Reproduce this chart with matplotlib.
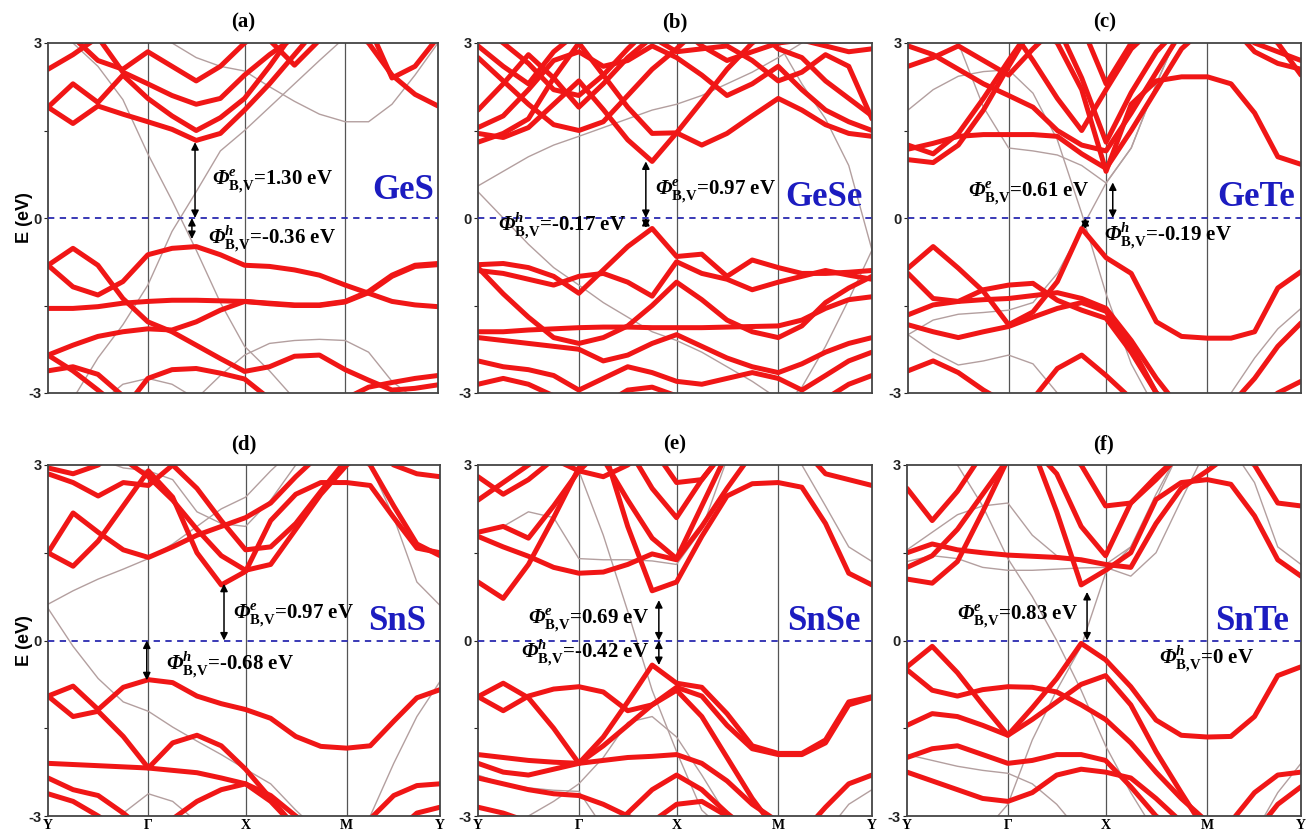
import matplotlib
matplotlib.use("Agg")
from matplotlib import pyplot as plt

# k-path sampling (Y - Gamma - X - M - Y), read at 17 points
K = [0.0, 0.064, 0.128, 0.192, 0.256, 0.318, 0.380, 0.442, 0.504,
     0.568, 0.632, 0.696, 0.762, 0.822, 0.882, 0.941, 1.0]
HSYM_K = [0.0, 0.256, 0.504, 0.762, 1.0]
HSYM_LABELS = ["Y", "\u0393", "X", "M", "Y"]

MATERIALS = ["GeS", "GeSe", "GeTe", "SnS", "SnSe", "SnTe"]
LETTERS = ["(a)", "(b)", "(c)", "(d)", "(e)", "(f)"]
PHI_E = [1.30, 0.97, 0.61, 0.97, 0.69, 0.83]
PHI_H = [-0.36, -0.17, -0.19, -0.68, -0.42, 0]

GES_RED = [
    [-0.81, -1.18, -1.32, -1.09, -0.63, -0.52, -0.49, -0.63, -0.81, -0.83, -0.89, -0.98, -1.15, -1.29, -1.43, -1.49, -1.52],
    [-0.81, -0.52, -0.81, -1.38, -1.78, -1.95, -2.18, -2.41, -2.63, -2.55, -2.37, -2.35, -2.60, -2.78, -2.95, -2.92, -2.86],
    [-1.55, -1.55, -1.52, -1.46, -1.43, -1.41, -1.41, -1.42, -1.43, -1.46, -1.49, -1.49, -1.43, -1.26, -0.98, -0.81, -0.78],
    [-2.35, -2.18, -2.03, -1.95, -1.90, -1.92, -1.78, -1.58, -1.43, -1.47, -1.50, -1.50, -1.44, -1.28, -1.00, -0.83, -0.80],
    [-2.62, -2.55, -2.68, -3.05, -3.30, -3.30, -3.30, -3.30, -3.30, -3.30, -3.30, -3.30, -3.30, -3.30, -3.30, -3.30, -3.30],
    [-2.35, -2.62, -2.95, -3.30, -2.75, -2.60, -2.58, -2.66, -2.76, -3.10, -3.30, -3.30, -3.30, -3.30, -3.30, -3.30, -3.30],
    [-3.30, -3.30, -3.30, -3.30, -3.30, -3.30, -3.30, -3.30, -3.30, -3.30, -3.30, -3.30, -3.10, -2.90, -2.82, -2.75, -2.70],
    [1.90, 1.62, 1.92, 1.78, 1.65, 1.52, 1.33, 1.45, 1.85, 2.30, 2.80, 3.30, 3.30, 3.30, 3.30, 3.30, 3.30],
    [1.90, 2.30, 1.98, 2.45, 2.05, 1.75, 1.50, 1.72, 2.05, 2.60, 3.20, 3.30, 3.30, 3.30, 3.30, 3.30, 3.30],
    [2.55, 2.80, 3.10, 2.50, 2.30, 2.10, 1.95, 2.05, 2.45, 2.80, 3.10, 3.30, 3.30, 3.00, 2.45, 2.12, 1.92],
    [3.30, 3.10, 2.70, 2.55, 2.85, 2.60, 2.35, 2.60, 3.00, 3.30, 3.30, 3.30, 3.30, 3.30, 2.40, 2.60, 3.10],
    [3.30, 3.30, 3.30, 3.30, 3.30, 3.30, 3.30, 3.30, 3.30, 3.05, 2.62, 3.05, 3.30, 3.30, 3.30, 3.30, 3.30],
]
GES_GRAY = [
    [3.40, 3.00, 2.60, 2.03, 1.10, 0.30, -0.55, -1.45, -2.20, -2.62, -3.10, -3.30, -3.30, -3.30, -3.30, -3.30, -3.30],
    [-3.30, -3.10, -2.40, -1.83, -1.15, -0.23, 0.45, 1.15, 1.50, 1.90, 2.30, 2.70, 3.10, 3.30, 3.30, 3.30, 3.30],
    [3.30, 3.30, 3.30, 3.30, 3.30, 3.00, 2.75, 2.60, 2.52, 2.25, 2.00, 1.78, 1.65, 1.65, 1.95, 2.45, 3.00],
    [-3.30, -3.30, -3.20, -2.85, -2.75, -2.85, -3.10, -2.70, -2.35, -2.15, -2.10, -2.08, -2.10, -2.30, -2.80, -3.10, -3.30],
]

GESE_RED = [
    [-0.80, -0.78, -0.85, -1.00, -1.29, -0.89, -0.49, -0.18, -0.66, -0.62, -1.00, -0.72, -0.85, -0.95, -0.95, -0.93, -0.90],
    [-0.90, -0.95, -1.05, -1.15, -1.00, -0.95, -1.10, -1.34, -0.75, -0.95, -1.05, -1.23, -1.10, -1.00, -0.90, -0.98, -1.05],
    [-1.95, -1.95, -1.92, -1.90, -1.88, -1.87, -1.87, -1.88, -1.88, -1.88, -1.87, -1.86, -1.85, -1.75, -1.55, -1.40, -1.35],
    [-0.85, -1.30, -1.70, -2.05, -2.15, -2.05, -1.85, -1.50, -1.10, -1.40, -1.75, -1.95, -2.05, -1.85, -1.45, -1.20, -1.00],
    [-2.05, -2.10, -2.15, -2.20, -2.25, -2.45, -2.35, -2.15, -2.00, -2.20, -2.40, -2.55, -2.65, -2.50, -2.30, -2.15, -2.05],
    [-2.45, -2.55, -2.60, -2.70, -2.95, -2.75, -2.55, -2.65, -2.80, -2.85, -2.75, -2.65, -2.75, -2.95, -2.70, -2.45, -2.30],
    [-2.85, -2.75, -2.85, -3.05, -3.30, -3.20, -2.95, -2.90, -3.05, -3.30, -3.30, -3.30, -3.30, -3.30, -3.10, -2.85, -2.70],
    [1.45, 1.38, 1.55, 1.95, 2.35, 1.86, 1.34, 0.97, 1.46, 1.25, 1.45, 1.75, 2.05, 1.85, 1.60, 1.45, 1.40],
    [1.30, 1.45, 1.70, 2.40, 3.00, 2.45, 1.90, 1.45, 1.46, 2.00, 2.55, 3.00, 3.30, 3.30, 3.30, 3.30, 3.30],
    [1.55, 1.75, 2.20, 2.70, 2.85, 2.60, 2.70, 2.95, 2.75, 2.45, 2.10, 2.30, 2.60, 2.20, 1.85, 1.65, 1.50],
    [1.85, 2.30, 2.80, 2.40, 1.90, 2.30, 2.75, 3.10, 2.85, 2.90, 2.95, 2.70, 2.35, 2.50, 2.80, 2.60, 1.70],
    [2.75, 2.35, 1.95, 1.60, 1.50, 1.65, 2.10, 2.55, 2.90, 3.30, 3.30, 3.30, 2.90, 2.75, 2.35, 2.05, 1.75],
    [2.95, 2.60, 2.30, 2.85, 3.20, 3.30, 3.30, 3.30, 3.30, 2.95, 2.70, 2.85, 3.00, 3.05, 2.95, 2.85, 2.90],
    [3.30, 3.00, 2.65, 2.20, 2.10, 2.45, 2.90, 3.30, 3.30, 3.30, 3.30, 3.30, 3.30, 3.30, 3.30, 3.30, 3.30],
]
GESE_GRAY = [
    [0.55, 0.80, 1.05, 1.25, 1.40, 1.55, 1.70, 1.85, 1.95, 2.10, 2.30, 2.50, 2.75, 3.00, 3.30, 3.30, 3.30],
    [0.45, 0.00, -0.45, -0.85, -1.15, -1.45, -1.70, -1.95, -2.10, -2.30, -2.55, -2.80, -3.10, -3.30, -3.30, -3.30, -3.30],
    [3.30, 3.30, 3.30, 3.30, 3.30, 3.30, 3.30, 3.30, 3.30, 3.30, 3.30, 3.30, 3.00, 2.30, 1.70, 0.90, -0.55],
    [-3.30, -3.30, -3.30, -3.30, -3.30, -3.30, -3.30, -3.30, -3.30, -3.30, -3.30, -3.30, -3.30, -2.90, -2.20, -1.40, -0.55],
]

GETE_RED = [
    [-0.86, -0.49, -0.86, -1.26, -1.83, -1.61, -1.09, -0.18, -0.68, -0.95, -1.78, -2.03, -2.06, -2.06, -1.95, -1.20, -0.92],
    [-0.95, -1.38, -1.43, -1.23, -1.15, -1.12, -1.41, -1.58, -1.72, -2.30, -3.00, -3.30, -3.30, -3.30, -3.30, -3.30, -3.30],
    [-1.66, -1.49, -1.43, -1.40, -1.38, -1.33, -1.28, -1.38, -1.55, -2.10, -2.75, -3.30, -3.30, -3.30, -3.30, -3.30, -3.30],
    [-1.83, -1.95, -2.05, -1.95, -1.86, -1.70, -1.55, -1.45, -1.60, -2.20, -3.00, -3.30, -3.30, -3.30, -3.30, -3.30, -3.30],
    [-2.62, -2.45, -2.65, -2.95, -3.20, -3.10, -2.58, -2.35, -2.70, -3.10, -3.30, -3.30, -3.30, -3.30, -3.30, -3.30, -3.30],
    [-3.30, -3.30, -3.30, -3.30, -3.30, -3.30, -3.30, -3.30, -3.30, -3.30, -3.30, -3.30, -3.30, -3.20, -2.75, -2.20, -1.80],
    [-3.30, -3.30, -3.30, -3.30, -3.30, -3.30, -3.30, -3.30, -3.30, -3.30, -3.30, -3.30, -3.30, -3.30, -3.30, -3.00, -2.80],
    [1.25, 1.10, 1.45, 2.05, 2.70, 3.30, 3.00, 2.20, 0.80, 1.95, 2.35, 2.42, 2.42, 2.30, 1.80, 1.05, 0.92],
    [1.00, 0.95, 1.25, 1.85, 2.60, 3.30, 3.30, 2.40, 1.30, 2.15, 2.85, 3.30, 3.30, 3.30, 3.00, 2.85, 2.70],
    [1.18, 1.28, 1.40, 1.43, 1.43, 1.43, 1.40, 1.10, 0.85, 1.50, 2.20, 2.90, 3.30, 3.30, 3.30, 3.30, 3.30],
    [2.60, 2.75, 2.95, 2.70, 2.45, 2.90, 3.30, 3.30, 2.30, 3.00, 3.30, 3.30, 3.30, 3.30, 2.85, 2.65, 2.55],
    [2.95, 2.80, 2.55, 2.30, 2.10, 1.90, 1.50, 1.25, 1.15, 1.80, 2.50, 3.20, 3.30, 3.30, 3.30, 3.00, 2.45],
    [3.30, 3.30, 3.30, 3.30, 3.30, 2.70, 2.05, 1.50, 2.20, 2.90, 3.30, 3.30, 3.30, 3.30, 3.30, 3.30, 3.30],
]
GETE_GRAY = [
    [1.85, 2.20, 2.43, 2.51, 2.54, 2.14, 1.34, 0.08, -1.30, -2.50, -3.30, -3.30, -3.30, -3.30, -3.30, -3.30, -3.30],
    [3.30, 3.30, 3.00, 1.90, 1.20, 1.15, 1.08, 0.90, 0.60, 1.20, 2.30, 3.30, 3.30, 3.30, 3.30, 3.30, 3.30],
    [-2.00, -1.75, -1.65, -1.62, -1.58, -1.45, -0.95, -0.18, 0.60, 1.20, 2.30, 3.30, 3.30, 3.30, 3.30, 3.30, 3.30],
    [-2.00, -2.30, -2.52, -2.45, -2.35, -2.50, -3.00, -3.30, -3.30, -3.30, -3.30, -3.30, -3.30, -3.30, -3.30, -3.30, -3.30],
    [-3.30, -3.30, -3.30, -3.30, -3.30, -3.30, -3.30, -3.30, -3.30, -3.30, -3.30, -3.30, -3.30, -3.00, -2.40, -1.90, -1.55],
]

SNS_RED = [
    [-0.95, -0.78, -1.18, -0.80, -0.67, -0.72, -0.95, -1.08, -1.18, -1.33, -1.64, -1.81, -1.84, -1.80, -1.38, -0.98, -0.84],
    [-0.95, -1.30, -1.21, -1.64, -2.18, -1.75, -1.62, -1.80, -2.20, -2.70, -3.20, -3.30, -3.30, -3.30, -3.30, -3.30, -3.30],
    [-2.10, -2.12, -2.14, -2.16, -2.18, -2.22, -2.26, -2.35, -2.45, -2.75, -3.20, -3.30, -3.30, -3.30, -3.30, -3.30, -3.30],
    [-2.35, -2.55, -2.65, -2.95, -3.30, -3.30, -3.30, -3.30, -3.30, -3.30, -3.30, -3.30, -3.30, -3.30, -3.30, -3.30, -3.30],
    [-2.62, -2.75, -3.00, -3.30, -3.30, -3.30, -3.30, -3.30, -3.30, -3.30, -3.30, -3.30, -3.30, -3.30, -3.30, -3.30, -3.30],
    [-3.30, -3.30, -3.30, -3.30, -3.30, -3.05, -2.75, -2.55, -2.45, -2.65, -3.00, -3.30, -3.30, -3.30, -3.30, -3.30, -3.30],
    [-3.30, -3.30, -3.30, -3.30, -3.30, -3.30, -3.30, -3.30, -3.30, -3.30, -3.30, -3.30, -3.30, -3.05, -2.65, -2.48, -2.45],
    [-3.30, -3.30, -3.30, -3.30, -3.30, -3.30, -3.30, -3.30, -3.30, -3.30, -3.30, -3.30, -3.30, -3.30, -3.30, -2.95, -2.85],
    [1.50, 1.27, 1.70, 2.30, 2.90, 2.45, 1.50, 0.95, 1.18, 2.05, 2.50, 2.70, 2.70, 2.65, 2.10, 1.58, 1.50],
    [1.50, 2.18, 1.85, 1.55, 1.42, 1.60, 1.80, 1.95, 2.10, 2.35, 2.80, 3.20, 3.30, 3.30, 3.30, 3.30, 3.30],
    [2.85, 2.70, 2.47, 2.70, 2.65, 3.00, 2.60, 2.05, 1.55, 1.60, 2.00, 2.55, 3.10, 3.30, 3.30, 3.30, 3.30],
    [3.30, 3.30, 3.30, 3.10, 2.80, 2.40, 1.90, 1.45, 1.20, 1.30, 1.90, 2.50, 3.00, 3.30, 3.30, 3.30, 3.30],
    [2.95, 2.85, 3.00, 3.30, 3.30, 3.30, 3.30, 3.30, 3.30, 3.30, 3.30, 3.30, 3.30, 3.30, 3.00, 2.85, 2.80],
    [3.30, 3.30, 3.30, 3.30, 3.30, 3.30, 3.30, 3.30, 3.30, 3.30, 3.30, 3.30, 3.30, 3.00, 2.30, 1.65, 1.45],
]
SNS_GRAY = [
    [0.62, 0.85, 1.05, 1.22, 1.40, 1.65, 1.95, 2.25, 2.45, 2.90, 3.30, 3.30, 3.30, 3.30, 3.30, 3.30, 3.30],
    [0.55, -0.10, -0.65, -1.05, -1.21, -1.48, -1.72, -1.95, -2.20, -2.45, -2.90, -3.30, -3.30, -3.30, -3.30, -3.30, -3.30],
    [3.30, 3.30, 3.10, 2.95, 2.90, 2.75, 2.20, 2.00, 1.95, 2.40, 3.00, 3.30, 3.30, 3.30, 3.30, 3.30, 3.30],
    [-3.30, -3.30, -3.30, -2.95, -2.62, -2.75, -3.10, -3.30, -3.30, -3.30, -3.30, -3.30, -3.30, -3.30, -3.30, -3.30, -3.30],
    [3.30, 3.30, 3.30, 3.30, 3.30, 3.30, 3.30, 3.30, 3.30, 3.30, 3.30, 3.30, 3.30, 3.00, 2.10, 1.00, 0.60],
    [-3.30, -3.30, -3.30, -3.30, -3.30, -3.30, -3.30, -3.30, -3.30, -3.30, -3.30, -3.30, -3.30, -3.00, -2.10, -1.30, -0.70],
]

SNSE_RED = [
    [-0.96, -0.73, -0.98, -1.50, -2.10, -1.65, -1.05, -0.42, -0.73, -0.80, -1.25, -1.80, -1.93, -1.93, -1.70, -1.05, -0.96],
    [-0.96, -1.20, -0.95, -0.83, -0.79, -0.88, -1.20, -1.10, -0.80, -0.95, -1.45, -1.85, -1.95, -1.95, -1.75, -1.10, -0.98],
    [-1.95, -2.00, -2.05, -2.08, -2.10, -2.05, -2.00, -1.98, -1.95, -2.10, -2.40, -2.80, -3.10, -3.30, -3.30, -3.30, -3.30],
    [-2.10, -2.25, -2.30, -2.20, -2.10, -1.80, -1.45, -1.10, -0.85, -1.30, -2.00, -2.70, -3.30, -3.30, -3.30, -3.30, -3.30],
    [-2.35, -2.45, -2.55, -2.62, -2.65, -2.80, -3.00, -3.20, -3.30, -3.30, -3.30, -3.30, -3.30, -3.30, -3.30, -3.30, -3.30],
    [-3.30, -3.30, -3.30, -3.30, -3.30, -3.30, -2.95, -2.55, -2.30, -2.55, -2.95, -3.30, -3.30, -3.30, -3.30, -3.30, -3.30],
    [-2.85, -2.95, -3.10, -3.30, -3.30, -3.30, -3.30, -3.10, -2.80, -2.75, -3.00, -3.30, -3.30, -3.30, -3.30, -3.30, -3.30],
    [-3.30, -3.30, -3.30, -3.30, -3.30, -3.30, -3.30, -3.30, -3.30, -3.30, -3.30, -3.30, -3.30, -3.30, -2.85, -2.45, -2.30],
    [1.00, 0.72, 1.30, 2.10, 2.95, 3.30, 1.95, 0.85, 1.00, 1.78, 2.47, 2.68, 2.70, 2.62, 2.00, 1.15, 0.95],
    [1.78, 1.60, 1.44, 1.25, 1.15, 1.17, 1.30, 1.48, 1.38, 1.95, 2.60, 3.20, 3.30, 3.30, 3.30, 3.30, 3.30],
    [1.85, 1.95, 1.75, 2.30, 2.90, 3.30, 3.30, 2.60, 2.10, 2.75, 3.30, 3.30, 3.30, 3.30, 3.30, 3.30, 3.30],
    [2.40, 2.70, 3.00, 3.30, 3.30, 3.10, 2.40, 1.75, 1.40, 2.30, 3.20, 3.30, 3.30, 3.30, 3.30, 3.30, 3.30],
    [2.80, 2.50, 2.75, 3.10, 2.90, 2.80, 3.00, 3.30, 2.70, 2.75, 3.30, 3.30, 3.30, 3.30, 3.30, 3.30, 3.30],
    [3.30, 3.30, 3.30, 3.30, 3.30, 3.30, 3.30, 3.30, 3.30, 3.30, 3.30, 3.30, 3.30, 3.30, 2.85, 2.75, 2.65],
]
SNSE_GRAY = [
    [3.30, 3.30, 3.30, 3.30, 2.90, 1.80, 0.50, -0.85, -1.90, -2.90, -3.30, -3.30, -3.30, -3.30, -3.30, -3.30, -3.30],
    [1.85, 1.95, 2.20, 2.10, 1.40, 1.38, 1.38, 1.36, 1.30, 1.90, 3.10, 3.30, 3.30, 3.30, 3.30, 3.30, 3.30],
    [-3.30, -3.30, -3.00, -2.75, -2.45, -2.00, -1.40, -1.30, -1.65, -2.30, -3.00, -3.30, -3.30, -3.30, -3.30, -3.30, -3.30],
    [-2.30, -2.45, -2.52, -2.56, -2.58, -3.20, -3.30, -3.30, -3.30, -3.30, -3.30, -3.30, -3.30, -3.30, -3.30, -3.30, -3.30],
    [3.30, 3.30, 3.30, 3.30, 3.30, 3.30, 3.30, 3.30, 3.30, 3.30, 3.30, 3.30, 3.30, 3.00, 2.30, 1.60, 1.35],
    [-3.30, -3.30, -3.30, -3.30, -3.30, -3.30, -3.30, -3.30, -3.30, -3.30, -3.30, -3.30, -3.30, -3.30, -3.30, -2.80, -2.55],
]

SNTE_RED = [
    [-0.45, -0.10, -0.55, -1.10, -1.62, -1.15, -0.65, -0.05, -0.33, -0.79, -1.36, -1.62, -1.65, -1.64, -1.30, -0.60, -0.45],
    [-0.50, -0.85, -0.95, -0.84, -0.79, -0.80, -0.88, -1.10, -1.35, -1.75, -2.25, -2.70, -3.10, -3.30, -3.30, -3.30, -3.30],
    [-1.45, -1.25, -1.30, -1.45, -1.62, -1.35, -1.05, -0.75, -0.60, -1.10, -1.90, -2.60, -3.30, -3.30, -3.30, -3.30, -3.30],
    [-2.00, -1.85, -1.80, -1.95, -2.10, -2.05, -1.95, -1.95, -2.05, -2.50, -3.00, -3.30, -3.30, -3.30, -3.30, -3.30, -3.30],
    [-2.25, -2.40, -2.55, -2.70, -2.75, -2.60, -2.30, -2.20, -2.25, -2.35, -2.70, -3.10, -3.30, -3.30, -3.30, -3.30, -3.30],
    [-3.30, -3.30, -3.30, -3.30, -3.30, -3.30, -3.30, -3.30, -3.30, -3.30, -3.30, -3.30, -3.30, -3.10, -2.60, -2.30, -2.25],
    [-3.30, -3.30, -3.30, -3.30, -3.30, -3.30, -3.30, -3.30, -3.30, -3.30, -3.30, -3.30, -3.30, -3.30, -3.30, -2.80, -2.50],
    [1.05, 0.98, 1.35, 2.20, 3.10, 3.30, 2.20, 0.95, 1.20, 1.50, 2.41, 2.70, 2.75, 2.67, 2.13, 1.38, 1.10],
    [1.50, 1.65, 1.55, 1.50, 1.46, 1.44, 1.42, 1.38, 1.30, 1.25, 2.00, 2.60, 2.90, 3.20, 3.30, 3.30, 3.30],
    [1.25, 1.45, 1.90, 2.50, 3.10, 3.30, 2.85, 1.95, 1.45, 2.35, 2.80, 3.20, 3.30, 3.30, 3.30, 3.30, 3.30],
    [2.60, 2.05, 2.55, 3.20, 3.30, 3.30, 3.30, 3.00, 2.30, 2.35, 2.75, 3.20, 3.30, 3.30, 3.00, 2.35, 2.30],
]
SNTE_GRAY = [
    [3.30, 3.30, 3.00, 2.30, 1.40, 0.75, 0.00, -0.85, -1.80, -2.60, -3.30, -3.30, -3.30, -3.30, -3.30, -3.30, -3.30],
    [-3.30, -3.30, -3.30, -3.30, -2.80, -1.70, -0.85, -0.10, 1.15, 1.60, 2.50, 3.30, 3.30, 3.30, 3.30, 3.30, 3.30],
    [1.55, 1.85, 2.15, 2.30, 2.35, 1.80, 1.45, 1.35, 1.30, 1.60, 2.40, 3.30, 3.30, 3.30, 3.30, 3.30, 3.30],
    [1.35, 1.45, 1.40, 1.25, 1.20, 1.20, 1.22, 1.24, 1.25, 1.10, 1.50, 2.40, 3.30, 3.30, 3.30, 3.30, 3.30],
    [-1.95, -2.05, -2.15, -2.22, -2.27, -2.45, -2.80, -3.30, -3.30, -3.30, -3.30, -3.30, -3.30, -3.30, -3.30, -3.30, -3.30],
    [3.30, 3.30, 3.30, 3.30, 3.30, 3.30, 3.30, 3.30, 3.30, 3.30, 3.30, 3.30, 3.30, 3.30, 2.70, 1.60, 1.30],
    [-3.30, -3.30, -3.30, -3.30, -3.30, -3.30, -3.30, -3.30, -3.30, -3.30, -3.30, -3.30, -3.30, -3.30, -3.30, -2.60, -2.10],
]

RED_BANDS = [GES_RED, GESE_RED, GETE_RED, SNS_RED, SNSE_RED, SNTE_RED]
GRAY_BANDS = [GES_GRAY, GESE_GRAY, GETE_GRAY, SNS_GRAY, SNSE_GRAY, SNTE_GRAY]

# layout: axes boxes in pixels (left, top, width, height)
W, H = 1306, 835
BOXES = [(48, 43, 390, 350), (478, 43, 394, 350), (908, 43, 393, 350),
         (48, 465, 392, 351), (478, 465, 394, 351), (907, 465, 394, 351)]
# arrow k positions (electron, hole) and text anchors (k, E, ha)
ARROW_K = [(0.377, 0.369), (0.426, 0.426), (0.521, 0.451),
           (0.449, 0.252), (0.459, 0.459), (0.457, None)]
TEXT_E = [(0.42, 0.63, "left"), (0.45, 0.46, "left"), (0.153, 0.43, "left"),
          (0.473, 0.44, "left"), (0.435, 0.35, "right"), (0.435, 0.41, "right")]
TEXT_H = [(0.41, -0.37, "left"), (0.052, -0.14, "left"), (0.50, -0.31, "left"),
          (0.30, -0.42, "left"), (0.435, -0.22, "right"), (0.64, -0.33, "left")]
NAME_POS = [(0.99, 0.47), (0.975, 0.36), (0.985, 0.36),
            (0.965, 0.33), (0.97, 0.33), (0.97, 0.33)]

RED = "#f01616"
GRAY = "#b39f9f"
BLUE = "#1c1cc0"
SERIF = "Liberation Serif"
SANS = "Liberation Sans"

plt.rcParams["mathtext.fontset"] = "custom"
plt.rcParams["mathtext.rm"] = "Liberation Serif:bold"
plt.rcParams["mathtext.bf"] = "Liberation Serif:bold"
plt.rcParams["mathtext.sf"] = "Liberation Serif:italic:bold"


def phi_label(sup, value):
    return r"$\mathsf{\Phi}^{\mathsf{" + sup + r"}}_{\mathrm{B{,}V}}$=" + value + " eV"


def fmt(v):
    if v == 0:
        return "0"
    return f"{v:.2f}"


fig = plt.figure(figsize=(W / 100, H / 100), dpi=100)
fig.set_facecolor("white")

for i in range(6):
    l, t, w, h = BOXES[i]
    ax = fig.add_axes([l / W, 1 - (t + h) / H, w / W, h / H])

    for band in GRAY_BANDS[i]:
        ax.plot(K, band, color=GRAY, lw=1.0, zorder=1)
    for band in RED_BANDS[i]:
        ax.plot(K, band, color=RED, lw=3.6, zorder=2,
                solid_joinstyle="round", solid_capstyle="round")

    for kx in HSYM_K[1:-1]:
        ax.axvline(kx, color="#555555", lw=0.9, zorder=0.5)
    ax.axhline(0, color="#2a2ab0", lw=1.3, ls=(0, (3.5, 3)), zorder=4)

    ax.set_xlim(0, 1)
    ax.set_ylim(-3, 3)
    ax.set_yticks([-3, -1.5, 0, 1.5, 3])
    ax.set_yticklabels(["-3", "", "0", "", "3"], fontfamily=SANS,
                       fontweight="bold", fontsize=10.5)
    ax.tick_params(axis="y", direction="out", length=3, width=0.8, pad=1.5,
                   colors="#222222")
    ax.set_xticks(HSYM_K)
    if i >= 3:
        ax.set_xticklabels(HSYM_LABELS, fontfamily=SERIF, fontweight="bold",
                           fontsize=10)
    else:
        ax.set_xticklabels([])
    ax.tick_params(axis="x", length=0, pad=2)
    for sp in ax.spines.values():
        sp.set_color("#444444")
        sp.set_linewidth(1.3)

    if i % 3 == 0:
        ax.set_ylabel("E (eV)", fontfamily=SANS, fontweight="bold",
                      fontsize=13, labelpad=-3)

    ax.set_title(LETTERS[i], fontfamily=SERIF, fontweight="bold",
                 fontsize=15, pad=11)

    # barrier arrows
    ke, kh = ARROW_K[i]
    arrow = dict(arrowstyle="<|-|>", color="black", lw=1.1,
                 mutation_scale=11, shrinkA=0, shrinkB=0)
    ax.annotate("", xy=(ke, PHI_E[i]), xytext=(ke, 0), arrowprops=arrow,
                zorder=5)
    if kh is not None and PHI_H[i] != 0:
        ax.annotate("", xy=(kh, PHI_H[i]), xytext=(kh, 0), arrowprops=arrow,
                    zorder=5)

    x, y, ha = TEXT_E[i]
    ax.text(x, y, phi_label("e", fmt(PHI_E[i])), ha=ha, va="center",
            fontfamily=SERIF, fontweight="bold", fontsize=15, zorder=6)
    x, y, ha = TEXT_H[i]
    ax.text(x, y, phi_label("h", fmt(PHI_H[i])), ha=ha, va="center",
            fontfamily=SERIF, fontweight="bold", fontsize=15, zorder=6)

    nx_, ny_ = NAME_POS[i]
    ax.text(nx_, ny_, MATERIALS[i], ha="right", va="center", color=BLUE,
            fontfamily=SERIF, fontweight="bold", fontsize=25, zorder=6)

plt.savefig("out.png", dpi=100, facecolor="white")
